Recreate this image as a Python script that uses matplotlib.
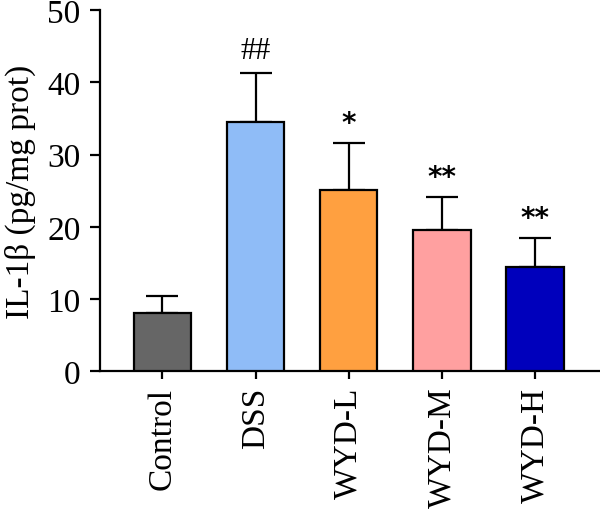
import matplotlib
matplotlib.use('Agg')
import matplotlib.pyplot as plt
import numpy as np

groups = ['Control', 'DSS', 'WYD-L', 'WYD-M', 'WYD-H']
means = [8.1, 34.5, 25.1, 19.6, 14.4]
sds = [2.3, 6.8, 6.5, 4.5, 4.0]
marks = ['', '##', '*', '**', '**']
colors = ['#666666', '#8fbcf7', '#ffa040', '#ffa0a0', '#0000bc']

plt.rcParams['font.family'] = ['Liberation Serif', 'DejaVu Serif']
plt.rcParams['font.size'] = 24

fig = plt.figure(figsize=(6, 5.1), dpi=100)
ax = fig.add_axes([0.1667, 0.27, 0.8333, 0.708])

x = np.arange(len(groups))
ax.bar(x, means, width=0.62, color=colors, edgecolor='black', linewidth=1.6, zorder=3)
ax.errorbar(x, means, yerr=[np.zeros(len(sds)), sds], fmt='none', ecolor='black',
            elinewidth=1.6, capsize=11.5, capthick=1.6, zorder=2)

for xi, m, s, t in zip(x, means, sds, marks):
    if t.startswith('*'):
        ax.text(xi, m + s + 0.9, t, ha='center', va='bottom', fontsize=20,
                family=['DejaVu Sans'], fontweight='bold')
    elif t:
        ax.text(xi, m + s + 1.1, t, ha='center', va='bottom', fontsize=22)

ax.set_xlim(-0.67, 4.7)
ax.set_ylim(0, 50)
ax.set_yticks([0, 10, 20, 30, 40, 50])
ax.set_xticks(x)
ax.set_xticklabels(groups, rotation=90)
ax.set_ylabel('IL-1β (pg/mg prot)', labelpad=8)

ax.spines['top'].set_visible(False)
ax.spines['right'].set_visible(False)
ax.spines['left'].set_linewidth(1.6)
ax.spines['bottom'].set_linewidth(1.6)
ax.tick_params(axis='y', length=7, width=1.6, pad=7)
ax.tick_params(axis='x', length=6, width=1.6, pad=5)

fig.savefig('out.png', dpi=100)
